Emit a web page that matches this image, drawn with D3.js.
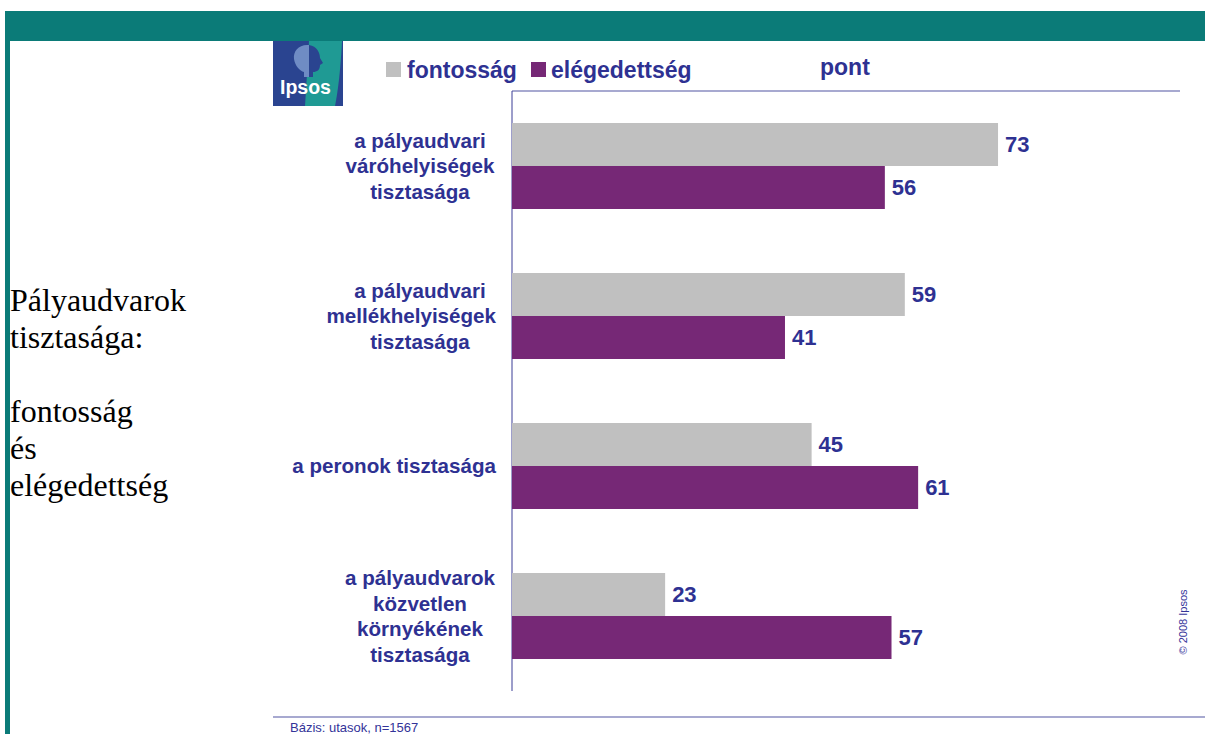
<!DOCTYPE html>
<html><head><meta charset="utf-8">
<script src="https://cdn.jsdelivr.net/npm/d3@7"></script>
<style>body{margin:0;background:#fff}svg{display:block}</style>
</head><body>
<script>
const categories = [
  ["a pályaudvari","váróhelyiségek","tisztasága"],
  ["a pályaudvari","mellékhelyiségek","tisztasága"],
  ["a peronok tisztasága"],
  ["a pályaudvarok","közvetlen","környékének","tisztasága"]
];
const seriesNames = ["fontosság","elégedettség"];
const fontossag = [73, 59, 45, 23];
const elegedettseg = [56, 41, 61, 57];
const sideTitle = ["Pályaudvarok","tisztasága:","","fontosság","és","elégedettség"];

const W = 1205, H = 734;
const navy = "#2e3192", teal = "#0b7b78";
const colors = ["#c0c0c0", "#762876"];
const sans = "Liberation Sans, Arial, sans-serif";
const svg = d3.select("body").append("svg").attr("width", W).attr("height", H);

// frame
svg.append("rect").attr("x",5).attr("y",11).attr("width",1200).attr("height",30).attr("fill",teal);
svg.append("rect").attr("x",5).attr("y",11).attr("width",5).attr("height",723).attr("fill",teal);

// logo
const lg = svg.append("g").attr("transform","translate(273,41)");
lg.append("rect").attr("width",70).attr("height",65).attr("fill","#2a4490");
lg.append("path").attr("d","M36,0 L69,0 Q67,40 62,65 L32,65 Z").attr("fill","#1f9a94");
lg.append("path").attr("d","M36,4 C26,3 20,10 21,18 C22,25 27,30 31,31 L31,36 L36,36 Z").attr("fill","#6f8cc4");
lg.append("path").attr("d","M36,4 C44,5 47,12 47,17 L50,22 L47,24 C47,29 44,31 40,31 L40,36 L36,36 Z").attr("fill","#2a4490");
lg.append("text").attr("x",7).attr("y",53).attr("fill","#fff").attr("font-family",sans)
  .attr("font-size",19.5).attr("font-weight","bold").text("Ipsos");

// scales
const x = d3.scaleLinear().domain([0, 100]).range([512, 512 + 665.8]);
const y = d3.scaleBand().domain(d3.range(categories.length)).range([91, 691]).paddingInner(0.4267).paddingOuter(0.2133);
const sub = d3.scaleBand().domain([0,1]).range([0, y.bandwidth()]);

// axes lines
svg.append("line").attr("x1",512).attr("x2",1180).attr("y1",91).attr("y2",91).attr("stroke","#8a8cc0").attr("stroke-width",1.5);
svg.append("g").attr("transform","translate(512,0)")
  .call(d3.axisLeft(y).tickSize(0).tickFormat(""))
  .call(g=>g.select(".domain").attr("stroke","#3a3c96").attr("d","M0,91V691"));

const data = [fontossag, elegedettseg];
data.forEach((vals, s) => {
  svg.append("g").selectAll("rect").data(vals).join("rect")
    .attr("x", x(0)).attr("y", (d,i)=>y(i)+sub(s)).attr("width", d=>x(d)-x(0)).attr("height", sub.bandwidth())
    .attr("fill", colors[s]);
  svg.append("g").selectAll("text").data(vals).join("text")
    .attr("x", d=>x(d)+7).attr("y",(d,i)=>y(i)+sub(s)+sub.bandwidth()/2).attr("dy","0.36em")
    .attr("font-family",sans).attr("font-weight","bold").attr("font-size",22)
    .attr("fill",navy).text(d=>d);
});

// category labels
const lh = 25.5;
categories.forEach((lines, i) => {
  const cy = y(i) + y.bandwidth()/2;
  lines.forEach((l, k) => {
    const t = svg.append("text").attr("text-anchor","middle").attr("font-family",sans)
      .attr("font-weight","bold").attr("font-size",20.6).attr("fill",navy)
      .attr("y", cy + (k - (lines.length-1)/2)*lh).attr("dy","0.36em").text(l);
    const w = t.node().getComputedTextLength();
    t.attr("x", Math.min(420, 496 - w/2));
  });
});

// legend
const leg = [[386,407],[531,551]];
seriesNames.forEach((n,s)=>{
  svg.append("rect").attr("x",leg[s][0]).attr("y",62).attr("width",15).attr("height",15).attr("fill",colors[s]);
  svg.append("text").attr("x",leg[s][1]).attr("y",78).attr("font-family",sans)
    .attr("font-weight","bold").attr("font-size",23).attr("fill",navy).text(n);
});
svg.append("text").attr("x",820).attr("y",75).attr("font-family",sans)
  .attr("font-weight","bold").attr("font-size",23).attr("fill",navy).text("pont");

// side title
const st = svg.append("text").attr("font-family","Liberation Serif, Times New Roman, serif").attr("font-size",32).attr("fill","#000");
sideTitle.forEach((l,k)=>{
  st.append("tspan").attr("x",10).attr("y",311 + k*37).text(l);
});

// bottom line and note
svg.append("line").attr("x1",273).attr("x2",1205).attr("y1",717).attr("y2",717).attr("stroke","#8a8cc0").attr("stroke-width",1.5);
svg.append("text").attr("x",290).attr("y",732).attr("font-family",sans)
  .attr("font-size",13).attr("fill","#333399").text("Bázis: utasok, n=1567");
svg.append("text").attr("transform","translate(1187,622) rotate(-90)").attr("text-anchor","middle")
  .attr("font-family",sans).attr("font-size",11).attr("fill","#333399").text("© 2008 Ipsos");
</script>
</body></html>
